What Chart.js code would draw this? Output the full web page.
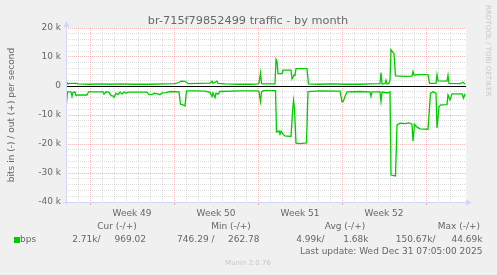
<!DOCTYPE html>
<html>
<head>
<meta charset="utf-8">
<title>br-715f79852499 traffic - by month</title>
<script src="https://cdn.jsdelivr.net/npm/chart.js@4/dist/chart.umd.min.js"></script>
<style>
  html, body { margin: 0; padding: 0; background: #f0f0f0; }
  #wrap { width: 497px; height: 275px; }
</style>
</head>
<body>
<div id="wrap"><canvas id="trafficChart" width="497" height="275"></canvas></div>
<script>
// x = 2h sample index from graph start (400 samples), y = kbit/s
const outSample = [0.5, 2, 4, 10, 12, 24, 34, 44, 54, 69, 84, 99, 109, 113, 115, 119, 122, 134, 144, 146, 147, 151, 152, 159, 174, 184, 192, 193, 194.5, 195.5, 198, 209, 210, 211, 212, 216, 217, 225, 226, 227, 228, 229, 230, 241, 242.5, 254, 264, 279, 294, 304, 314, 315, 316, 319, 320, 321, 323, 324, 325, 327, 328, 329.5, 334, 339, 346, 347, 348, 354, 362, 363.5, 370, 371, 372, 381, 382, 383, 394, 397, 399];
const outKbps = [1.4, 0.7, 0.9, 0.9, 0.7, 0.6, 0.7, 0.6, 0.7, 0.6, 0.6, 0.7, 0.8, 1.2, 1.7, 1.6, 0.8, 0.9, 1.0, 1.6, 0.9, 1.7, 0.9, 0.7, 0.6, 0.6, 0.7, 1.0, 4.5, 0.8, 0.7, 0.7, 9.2, 8.5, 4.3, 4.3, 5.5, 5.5, 2.4, 3.0, 3.8, 3.6, 6.0, 6.0, 0.7, 0.6, 0.7, 0.6, 0.6, 0.7, 0.8, 4.6, 0.7, 0.8, 2.0, 0.7, 0.9, 2.0, 12.5, 11.5, 11.2, 3.5, 3.4, 3.3, 3.4, 5.0, 3.8, 3.9, 3.9, 0.9, 0.9, 3.9, 1.8, 1.7, 3.7, 0.9, 0.8, 1.3, 0.7];

const inSample = [0.5, 1.5, 5, 6, 7, 9, 10, 12, 21, 22.5, 37, 38, 40, 43, 45, 47, 48, 50, 52, 54, 56, 58, 60, 62, 81, 83, 86, 88, 91, 94, 96, 100, 104, 113, 114.5, 117, 119, 120.5, 130, 139, 144, 146, 147, 149, 150, 152, 154, 174, 192, 193, 194.5, 195.5, 198, 209.5, 210.5, 213, 214, 215, 217, 219, 225, 226.5, 227.5, 228.5, 230, 234, 240.5, 242, 254, 274, 276, 277, 279, 281, 294, 304, 305, 306, 314, 315, 316, 322, 324, 325, 329.5, 331, 334, 339, 343, 346, 347, 348.5, 351, 354, 362, 364.5, 367, 370, 371, 373, 375, 381, 382, 384, 386, 396, 397.5, 399];
const inKbps = [-5.9, -2.0, -2.0, -3.6, -2.2, -2.1, -3.3, -3.1, -3.1, -2.0, -2.0, -2.8, -2.0, -2.2, -3.3, -3.4, -3.9, -2.5, -3.0, -2.1, -2.8, -2.0, -2.5, -2.1, -2.1, -3.0, -3.0, -2.5, -2.6, -3.0, -2.4, -2.3, -1.9, -2.0, -6.3, -6.5, -6.9, -1.7, -1.7, -1.8, -2.2, -3.6, -2.4, -4.0, -2.5, -2.8, -1.9, -1.7, -1.7, -2.0, -5.4, -2.0, -1.6, -1.6, -15.9, -15.5, -16.6, -15.6, -16.6, -17.2, -17.4, -9.0, -5.0, -8.0, -19.7, -19.9, -19.6, -1.9, -1.7, -1.8, -5.5, -5.5, -3.6, -2.0, -1.9, -2.0, -3.6, -2.0, -2.0, -5.3, -2.1, -2.4, -2.0, -30.7, -31.0, -13.5, -12.8, -13.0, -12.7, -13.2, -19.0, -13.2, -14.2, -14.8, -14.9, -2.5, -2.0, -2.5, -14.5, -7.1, -6.5, -6.4, -3.1, -4.8, -2.7, -2.7, -4.2, -2.7];

const weekStarts = [24, 108, 192, 276, 360];
const weekLabels = ['Week 49', 'Week 50', 'Week 51', 'Week 52'];

const legendHeads = ['Cur (-/+)', 'Min (-/+)', 'Avg (-/+)', 'Max (-/+)'];
const legendValues = ['2.71k/', '969.02', '746.29 /', '262.78', '4.99k/', '1.68k', '150.67k/', '44.69k'];
const lastUpdate = 'Last update: Wed Dec 31 07:05:00 2025';

const FONT = "'DejaVu Sans', sans-serif";
const TEXT = '#666666';
const GREEN = '#00cc00';
const AXIS = '#cfd6f8';
const MAJOR = 'rgba(230, 90, 90, 0.4)';
const MINOR = 'rgba(150, 150, 150, 0.3)';

const weekLabelAt = {};
weekLabels.forEach((w, i) => {
    weekLabelAt[(weekStarts[i] + weekStarts[i + 1]) / 2] = w;
});

const toPoints = (xs, ys) => xs.map((x, i) => ({ x: x, y: ys[i] }));

const muninPlugin = {
    id: 'munin',
    beforeDraw(chart) {
        const { ctx, chartArea: a } = chart;
        ctx.save();
        ctx.fillStyle = '#f0f0f0';
        ctx.fillRect(0, 0, chart.width, chart.height);
        ctx.fillStyle = '#ffffff';
        ctx.fillRect(a.left, a.top, a.right - a.left, a.bottom - a.top);
        ctx.restore();
    },
    afterDatasetsDraw(chart) {
        const { ctx, chartArea: a } = chart;
        const y0 = Math.round(chart.scales.y.getPixelForValue(0)) + 0.5;
        ctx.save();
        // zero line
        ctx.strokeStyle = '#000000';
        ctx.lineWidth = 1;
        ctx.beginPath();
        ctx.moveTo(a.left, y0);
        ctx.lineTo(a.right, y0);
        ctx.stroke();
        // axes with arrows
        const ax = a.left + 0.5, ay = a.bottom + 0.5;
        ctx.strokeStyle = AXIS;
        ctx.fillStyle = AXIS;
        ctx.beginPath();
        ctx.moveTo(ax, a.bottom + 3);
        ctx.lineTo(ax, a.top - 3);
        ctx.moveTo(a.left - 3, ay);
        ctx.lineTo(a.right + 1, ay);
        ctx.stroke();
        ctx.beginPath();
        ctx.moveTo(ax, a.top - 7);
        ctx.lineTo(ax - 3, a.top - 1);
        ctx.lineTo(ax + 3, a.top - 1);
        ctx.closePath();
        ctx.fill();
        ctx.beginPath();
        ctx.moveTo(a.right + 6, ay);
        ctx.lineTo(a.right, ay - 3);
        ctx.lineTo(a.right, ay + 3);
        ctx.closePath();
        ctx.fill();
        ctx.restore();
    },
    afterDraw(chart) {
        const { ctx, chartArea: a } = chart;
        ctx.save();
        ctx.fillStyle = TEXT;
        ctx.textBaseline = 'middle';

        // title
        ctx.font = '11.3px ' + FONT;
        ctx.textAlign = 'center';
        ctx.fillText('br-715f79852499 traffic - by month', 248, 21.5);

        // vertical axis label
        ctx.font = '9px ' + FONT;
        ctx.save();
        ctx.translate(11.5, (a.top + a.bottom) / 2);
        ctx.rotate(-Math.PI / 2);
        ctx.fillText('bits in (-) / out (+) per second', 0, 0);
        ctx.restore();

        // rrdtool watermark
        ctx.save();
        ctx.fillStyle = '#c8c8c8';
        ctx.font = '7.1px ' + FONT;
        ctx.translate(488, 5);
        ctx.rotate(Math.PI / 2);
        ctx.textAlign = 'left';
        ctx.fillText('RRDTOOL / TOBI OETIKER', 0, 0);
        ctx.restore();

        // legend
        ctx.font = '9px ' + FONT;
        ctx.textAlign = 'center';
        ctx.fillText(legendHeads[0], 117, 227);
        ctx.fillText(legendHeads[1], 231, 227);
        ctx.fillText(legendHeads[2], 345, 227);
        ctx.textAlign = 'right';
        ctx.fillText(legendHeads[3], 480, 227);

        ctx.fillStyle = GREEN;
        ctx.fillRect(14, 237, 6, 6);
        ctx.fillStyle = TEXT;
        ctx.textAlign = 'left';
        ctx.fillText('bps', 20, 239.5);
        const rights = [100.5, 146, 214.5, 259.5, 324.5, 368.5, 435.5, 482.5];
        ctx.textAlign = 'right';
        legendValues.forEach((v, i) => ctx.fillText(v, rights[i], 239.5));
        ctx.fillText(lastUpdate, 482.5, 251.5);

        ctx.fillStyle = '#c8c8c8';
        ctx.font = '7px ' + FONT;
        ctx.textAlign = 'center';
        ctx.fillText('Munin 2.0.76', 248, 263);
        ctx.restore();
    }
};

new Chart(document.getElementById('trafficChart'), {
    type: 'line',
    data: {
        datasets: [
            {
                label: 'out',
                data: toPoints(outSample, outKbps),
                borderColor: GREEN,
                borderWidth: 1.3,
                pointRadius: 0,
                tension: 0,
                fill: false
            },
            {
                label: 'in',
                data: toPoints(inSample, inKbps),
                borderColor: GREEN,
                borderWidth: 1.3,
                pointRadius: 0,
                tension: 0,
                fill: false
            }
        ]
    },
    options: {
        responsive: false,
        animation: false,
        devicePixelRatio: 1,
        layout: { padding: { top: 28, right: 31, bottom: 53, left: 0 } },
        plugins: {
            legend: { display: false },
            tooltip: { enabled: false },
            title: { display: false }
        },
        scales: {
            x: {
                type: 'linear',
                min: 0,
                max: 400,
                afterFit: (s) => { s.height = 20; },
                border: { display: false, dash: [1, 1] },
                grid: {
                    color: (c) => {
                        const v = c.tick.value;
                        if (weekStarts.includes(v)) return MAJOR;
                        if (v % 12 === 0 && v > 0) return MINOR;
                        return 'rgba(0,0,0,0)';
                    },
                    tickColor: (c) => weekStarts.includes(c.tick.value) ? MAJOR : 'rgba(0,0,0,0)',
                    tickLength: 3,
                    lineWidth: 1
                },
                ticks: {
                    stepSize: 6,
                    autoSkip: false,
                    maxRotation: 0,
                    padding: 3,
                    color: TEXT,
                    font: { family: FONT, size: 9 },
                    callback: (v) => weekLabelAt[v] || ''
                }
            },
            y: {
                min: -40,
                max: 20,
                afterFit: (s) => { s.width = 66; },
                border: { display: false, dash: [1, 1] },
                grid: {
                    color: (c) => c.tick.value % 10 === 0 ? MAJOR : MINOR,
                    drawTicks: false,
                    lineWidth: 1
                },
                ticks: {
                    stepSize: 2,
                    autoSkip: false,
                    padding: 5,
                    color: TEXT,
                    font: { family: FONT, size: 9 },
                    callback: (v) => v % 10 === 0 ? (v === 0 ? '0' : v + ' k') : ''
                }
            }
        }
    },
    plugins: [muninPlugin]
});
</script>
</body>
</html>
